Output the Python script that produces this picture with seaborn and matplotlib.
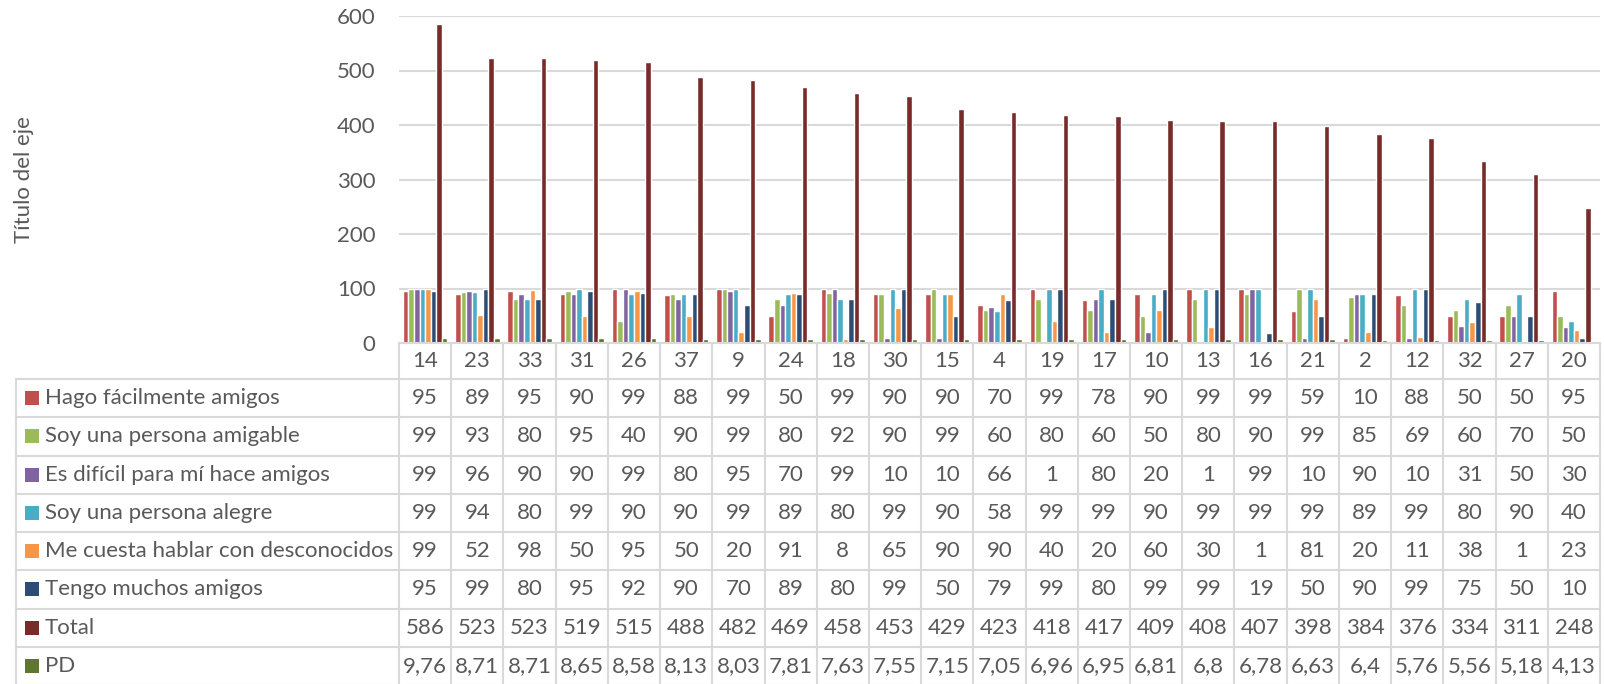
import numpy as np
import pandas as pd
import matplotlib.pyplot as plt
import seaborn as sns
from matplotlib.lines import Line2D
from matplotlib.patches import Rectangle

# Chart data
categories = ['14', '23', '33', '31', '26', '37', '9', '24', '18', '30', '15', '4',
              '19', '17', '10', '13', '16', '21', '2', '12', '32', '27', '20']
hago = [95, 89, 95, 90, 99, 88, 99, 50, 99, 90, 90, 70, 99, 78, 90, 99, 99, 59, 10, 88, 50, 50, 95]
amigable = [99, 93, 80, 95, 40, 90, 99, 80, 92, 90, 99, 60, 80, 60, 50, 80, 90, 99, 85, 69, 60, 70, 50]
dificil = [99, 96, 90, 90, 99, 80, 95, 70, 99, 10, 10, 66, 1, 80, 20, 1, 99, 10, 90, 10, 31, 50, 30]
alegre = [99, 94, 80, 99, 90, 90, 99, 89, 80, 99, 90, 58, 99, 99, 90, 99, 99, 99, 89, 99, 80, 90, 40]
cuesta = [99, 52, 98, 50, 95, 50, 20, 91, 8, 65, 90, 90, 40, 20, 60, 30, 1, 81, 20, 11, 38, 1, 23]
muchos = [95, 99, 80, 95, 92, 90, 70, 89, 80, 99, 50, 79, 99, 80, 99, 99, 19, 50, 90, 99, 75, 50, 10]
total = [586, 523, 523, 519, 515, 488, 482, 469, 458, 453, 429, 423, 418, 417, 409, 408, 407, 398,
         384, 376, 334, 311, 248]
pd_vals = [9.76, 8.71, 8.71, 8.65, 8.58, 8.13, 8.03, 7.81, 7.63, 7.55, 7.15, 7.05, 6.96, 6.95,
           6.81, 6.8, 6.78, 6.63, 6.4, 5.76, 5.56, 5.18, 4.13]

series_names = ['Hago fácilmente amigos', 'Soy una persona amigable', 'Es difícil para mí hace amigos',
                'Soy una persona alegre', 'Me cuesta hablar con desconocidos', 'Tengo muchos amigos',
                'Total', 'PD']
series_values = [hago, amigable, dificil, alegre, cuesta, muchos, total, pd_vals]
colors = ['#C0504D', '#9BBB59', '#8064A2', '#4BACC6', '#F79646', '#2C4D75', '#772C2A', '#5F7530']

# Long format for seaborn
df = pd.concat([pd.DataFrame({'cat': categories, 'serie': name, 'valor': vals})
                for name, vals in zip(series_names, series_values)], ignore_index=True)

sns.set_style('white')
plt.rcParams['font.family'] = ['Lato', 'DejaVu Sans']
text_col = '#595959'
line_col = '#D9D9D9'
fs = 16

W, H = 1604, 684
fig = plt.figure(figsize=(W / 100, H / 100), dpi=100)

# axes placed in pixels: left 399, right 1600, top 16, bottom 343
ax_left, ax_right, ax_top, ax_bottom = 399, 1600, 16, 343
ax = fig.add_axes([ax_left / W, 1 - ax_bottom / H, (ax_right - ax_left) / W, (ax_bottom - ax_top) / H])

sns.barplot(data=df, x='cat', y='valor', hue='serie', order=categories, hue_order=series_names,
            palette=colors, width=0.85, saturation=1, ax=ax, legend=False, errorbar=None)

ax.set_xlim(-0.5, len(categories) - 0.5)
ax.set_ylim(0, 600)
ax.set_yticks(range(0, 601, 100))
ax.grid(axis='y', color=line_col, lw=1.5)
ax.set_axisbelow(True)
for s in ['top', 'right', 'left']:
    ax.spines[s].set_visible(False)
ax.spines['bottom'].set_color(line_col)
ax.spines['bottom'].set_linewidth(1.5)
ax.set_xticks([])
ax.set_xlabel('')
ax.set_ylabel('')
ax.tick_params(axis='y', length=0, labelsize=fs, labelcolor=text_col, pad=17)

fig.text(24 / W, 1 - (ax_top + ax_bottom) / 2 / H, 'Título del eje', rotation=90,
         ha='center', va='center', fontsize=fs, color=text_col)

# Data table below the plot
trans = ax.get_xaxis_transform()  # x in data, y in axes fraction
ax_h = ax_bottom - ax_top


def yax(ypix):
    return (ax_bottom - ypix) / ax_h


header_bottom = 379
row_h = 38.25
n_rows = len(series_names)
table_bottom = header_bottom + row_h * n_rows

# category header
for i, c in enumerate(categories):
    ax.text(i, yax((ax_bottom + header_bottom) / 2), c, transform=trans, ha='center', va='center',
            fontsize=fs, color=text_col, clip_on=False)


def fmt(v):
    if isinstance(v, float):
        return str(v).replace('.', ',')
    return str(v)


for r, (name, vals, col) in enumerate(zip(series_names, series_values, colors)):
    yc = header_bottom + row_h * (r + 0.5)
    for i, v in enumerate(vals):
        ax.text(i, yax(yc), fmt(v), transform=trans, ha='center', va='center',
                fontsize=fs, color=text_col, clip_on=False)
    fig.add_artist(Rectangle((25 / W, 1 - (yc + 7) / H), 14 / W, 14 / H,
                             transform=fig.transFigure, color=col, lw=0))
    fig.text(45 / W, 1 - yc / H, name, ha='left', va='center', fontsize=fs, color=text_col)

# grid lines of the table
for k in range(len(categories) + 1):
    ax.plot([k - 0.5, k - 0.5], [0, yax(table_bottom)], transform=trans, color=line_col,
            lw=1.5, clip_on=False, solid_capstyle='butt')
for r in range(n_rows + 1):
    yl = 1 - (header_bottom + row_h * r) / H
    fig.add_artist(Line2D([16 / W, ax_right / W], [yl, yl], transform=fig.transFigure,
                          color=line_col, lw=1.5))
fig.add_artist(Line2D([16 / W, 16 / W], [1 - header_bottom / H, 1 - table_bottom / H],
                      transform=fig.transFigure, color=line_col, lw=1.5))

fig.savefig('out.png', dpi=100)
